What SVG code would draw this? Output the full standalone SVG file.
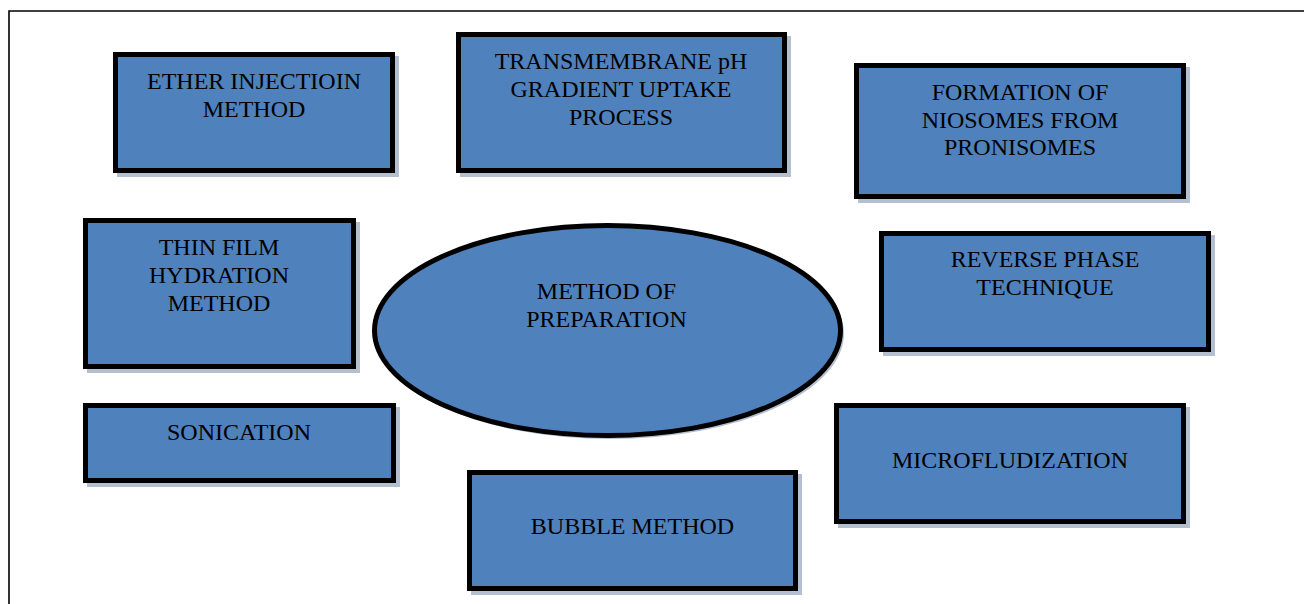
<svg xmlns="http://www.w3.org/2000/svg" width="1304" height="604" viewBox="0 0 1304 604">
<style>
.box{fill:#4f81bd;stroke:#000;stroke-width:5}
.sh{fill:#b4bfd0}
.t{font-family:"Liberation Serif","Times New Roman",serif;font-size:24px;fill:#000;text-anchor:middle}
.frame{stroke:#000;stroke-width:1.6;fill:none}
</style>
<rect width="1304" height="604" fill="#fff"/>
<path class="frame" d="M9,604 V11 H1304"/>
<g id="connectors"></g>
<g id="ether">
<rect class="sh" x="117" y="56" width="282" height="121"/>
<rect class="box" x="115.5" y="54.5" width="277" height="116"/>
<text class="t" x="254" y="89">ETHER INJECTIOIN</text>
<text class="t" x="254" y="117">METHOD</text>
</g>
<g id="transmembrane">
<rect class="sh" x="460" y="36" width="331" height="141"/>
<rect class="box" x="458.5" y="34.5" width="326" height="136"/>
<text class="t" x="621" y="69">TRANSMEMBRANE pH</text>
<text class="t" x="621" y="97">GRADIENT UPTAKE</text>
<text class="t" x="621" y="125">PROCESS</text>
</g>
<g id="formation">
<rect class="sh" x="858" y="67" width="332" height="136"/>
<rect class="box" x="856.5" y="65.5" width="327" height="131"/>
<text class="t" x="1020" y="100">FORMATION OF</text>
<text class="t" x="1020" y="128">NIOSOMES FROM</text>
<text class="t" x="1020" y="155">PRONISOMES</text>
</g>
<g id="thinfilm">
<rect class="sh" x="87" y="222" width="273" height="151"/>
<rect class="box" x="85.5" y="220.5" width="268" height="146"/>
<text class="t" x="219" y="255">THIN FILM</text>
<text class="t" x="219" y="283">HYDRATION</text>
<text class="t" x="219" y="311">METHOD</text>
</g>
<g id="reverse">
<rect class="sh" x="883" y="235" width="332" height="121"/>
<rect class="box" x="881.5" y="233.5" width="327" height="116"/>
<text class="t" x="1045" y="267">REVERSE PHASE</text>
<text class="t" x="1045" y="295">TECHNIQUE</text>
</g>
<g id="sonication">
<rect class="sh" x="87" y="407" width="313" height="80"/>
<rect class="box" x="85.5" y="405.5" width="308" height="75"/>
<text class="t" x="239" y="440">SONICATION</text>
</g>
<g id="microfludization">
<rect class="sh" x="838" y="407" width="352" height="121"/>
<rect class="box" x="836.5" y="405.5" width="347" height="116"/>
<text class="t" x="1010" y="468">MICROFLUDIZATION</text>
</g>
<g id="bubble">
<rect class="sh" x="471" y="474" width="331" height="121"/>
<rect class="box" x="469.5" y="472.5" width="326" height="116"/>
<text class="t" x="632.5" y="534">BUBBLE METHOD</text>
</g>
<g id="center">
<ellipse class="sh" cx="610" cy="333.5" rx="234" ry="105.5"/>
<ellipse class="box" cx="607.5" cy="330.5" rx="233" ry="105"/>
<text class="t" x="606.5" y="299">METHOD OF</text>
<text class="t" x="606.5" y="327">PREPARATION</text>
</g>
</svg>
